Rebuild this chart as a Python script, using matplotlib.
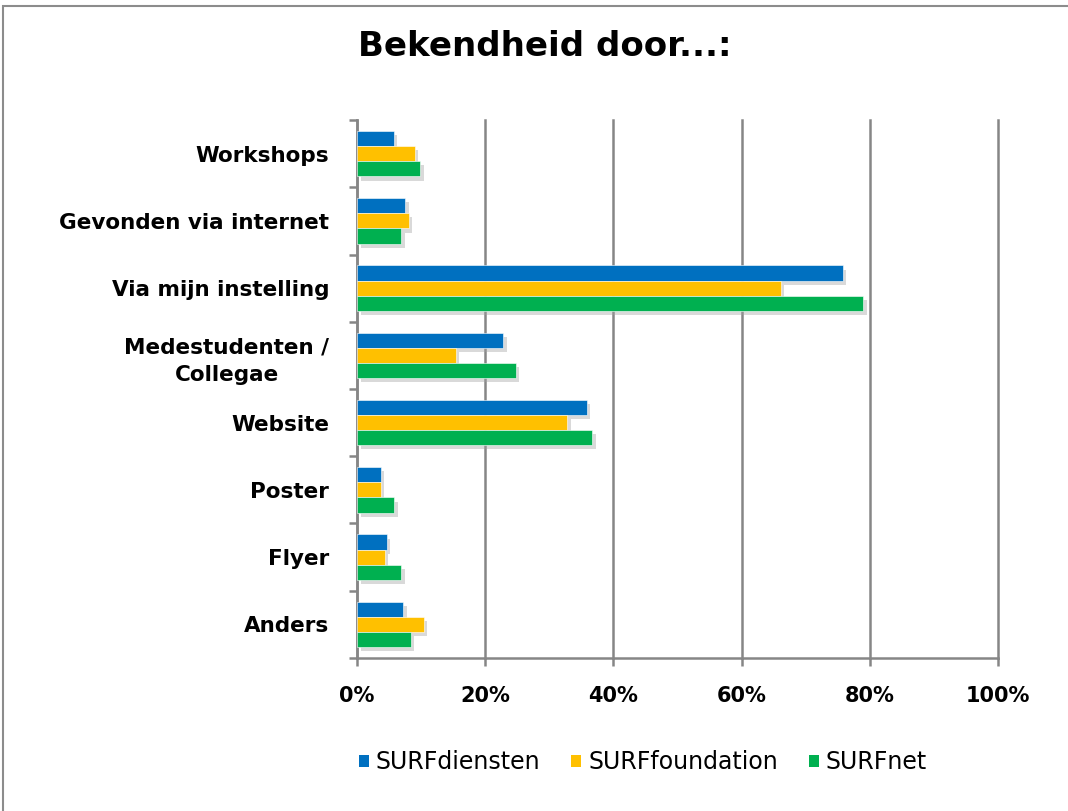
import matplotlib
matplotlib.use("Agg")
import matplotlib.pyplot as plt
import matplotlib.patheffects as pe
from matplotlib.patches import Rectangle
import numpy as np

categories = ["Workshops", "Gevonden via internet", "Via mijn instelling",
              "Medestudenten /\nCollegae", "Website", "Poster", "Flyer", "Anders"]
series_names = ["SURFdiensten", "SURFfoundation", "SURFnet"]
surfdiensten = [5.7, 7.5, 75.8, 22.8, 35.8, 3.7, 4.6, 7.2]
surffoundation = [9.0, 8.1, 66.1, 15.4, 32.8, 3.7, 4.3, 10.4]
surfnet = [9.9, 6.9, 79.0, 24.8, 36.7, 5.8, 6.9, 8.4]
x_ticks = [0, 20, 40, 60, 80, 100]
x_tick_labels = ["0%", "20%", "40%", "60%", "80%", "100%"]

colors = ["#0070C0", "#FFC000", "#00B050"]

fig = plt.figure(figsize=(10.68, 8.11), dpi=100)
fig.patch.set_facecolor("white")
fig.patches.append(Rectangle((0.003, -0.01), 1.2, 1.003, transform=fig.transFigure,
                             fill=False, edgecolor="#8c8c8c", linewidth=1.5))

ax = fig.add_axes([0.3343, 0.1887, 0.6002, 0.6633])

n = len(categories)
y = np.arange(n)[::-1].astype(float)
h = 0.225
shadow = [pe.SimplePatchShadow(offset=(2.5, -3), shadow_rgbFace="#a0a0a0", alpha=0.4), pe.Normal()]
for i, (vals, name, c) in enumerate(zip([surfdiensten, surffoundation, surfnet], series_names, colors)):
    bars = ax.barh(y + h * (1 - i), vals, height=h, color=c, label=name, zorder=3,
                   edgecolor="white", linewidth=0.4)
    for b in bars:
        b.set_path_effects(shadow)

ax.set_xlim(0, 100)
ax.set_ylim(-0.5, n - 0.5)
ax.set_xticks(x_ticks)
ax.set_xticklabels(x_tick_labels, fontsize=15, fontweight="bold")
ax.set_yticks(y)
ax.set_yticklabels(categories, fontsize=15.5, fontweight="bold", multialignment="center",
                   linespacing=1.5)
ax.set_yticks(np.arange(-0.5, n, 1.0), minor=True)
ax.tick_params(axis="y", which="major", length=0, pad=20)
ax.tick_params(axis="y", which="minor", length=6, width=1.8, color="#868686", direction="out")
ax.tick_params(axis="x", which="major", length=6, width=1.8, color="#868686", direction="out", pad=14)

ax.grid(axis="x", color="#868686", linewidth=1.8, zorder=0)
for gl in ax.get_xgridlines():
    gl.set_clip_on(False)
ax.set_axisbelow(True)
for s in ["top", "right"]:
    ax.spines[s].set_visible(False)
for s in ["left", "bottom"]:
    ax.spines[s].set_color("#868686")
    ax.spines[s].set_linewidth(1.8)

fig.text(0.510, 0.943, "Bekendheid door...:", ha="center", va="center",
         fontsize=24.5, fontweight="bold")

leg = fig.legend(loc="center", bbox_to_anchor=(0.602, 0.06), ncol=3, frameon=False,
                 fontsize=17, handlelength=0.42, handleheight=0.42, handletextpad=0.3,
                 columnspacing=1.3)
for hdl in leg.legend_handles:
    hdl.set_path_effects([])
    hdl.set_edgecolor("none")

fig.savefig("out.png", dpi=100, facecolor="white")
